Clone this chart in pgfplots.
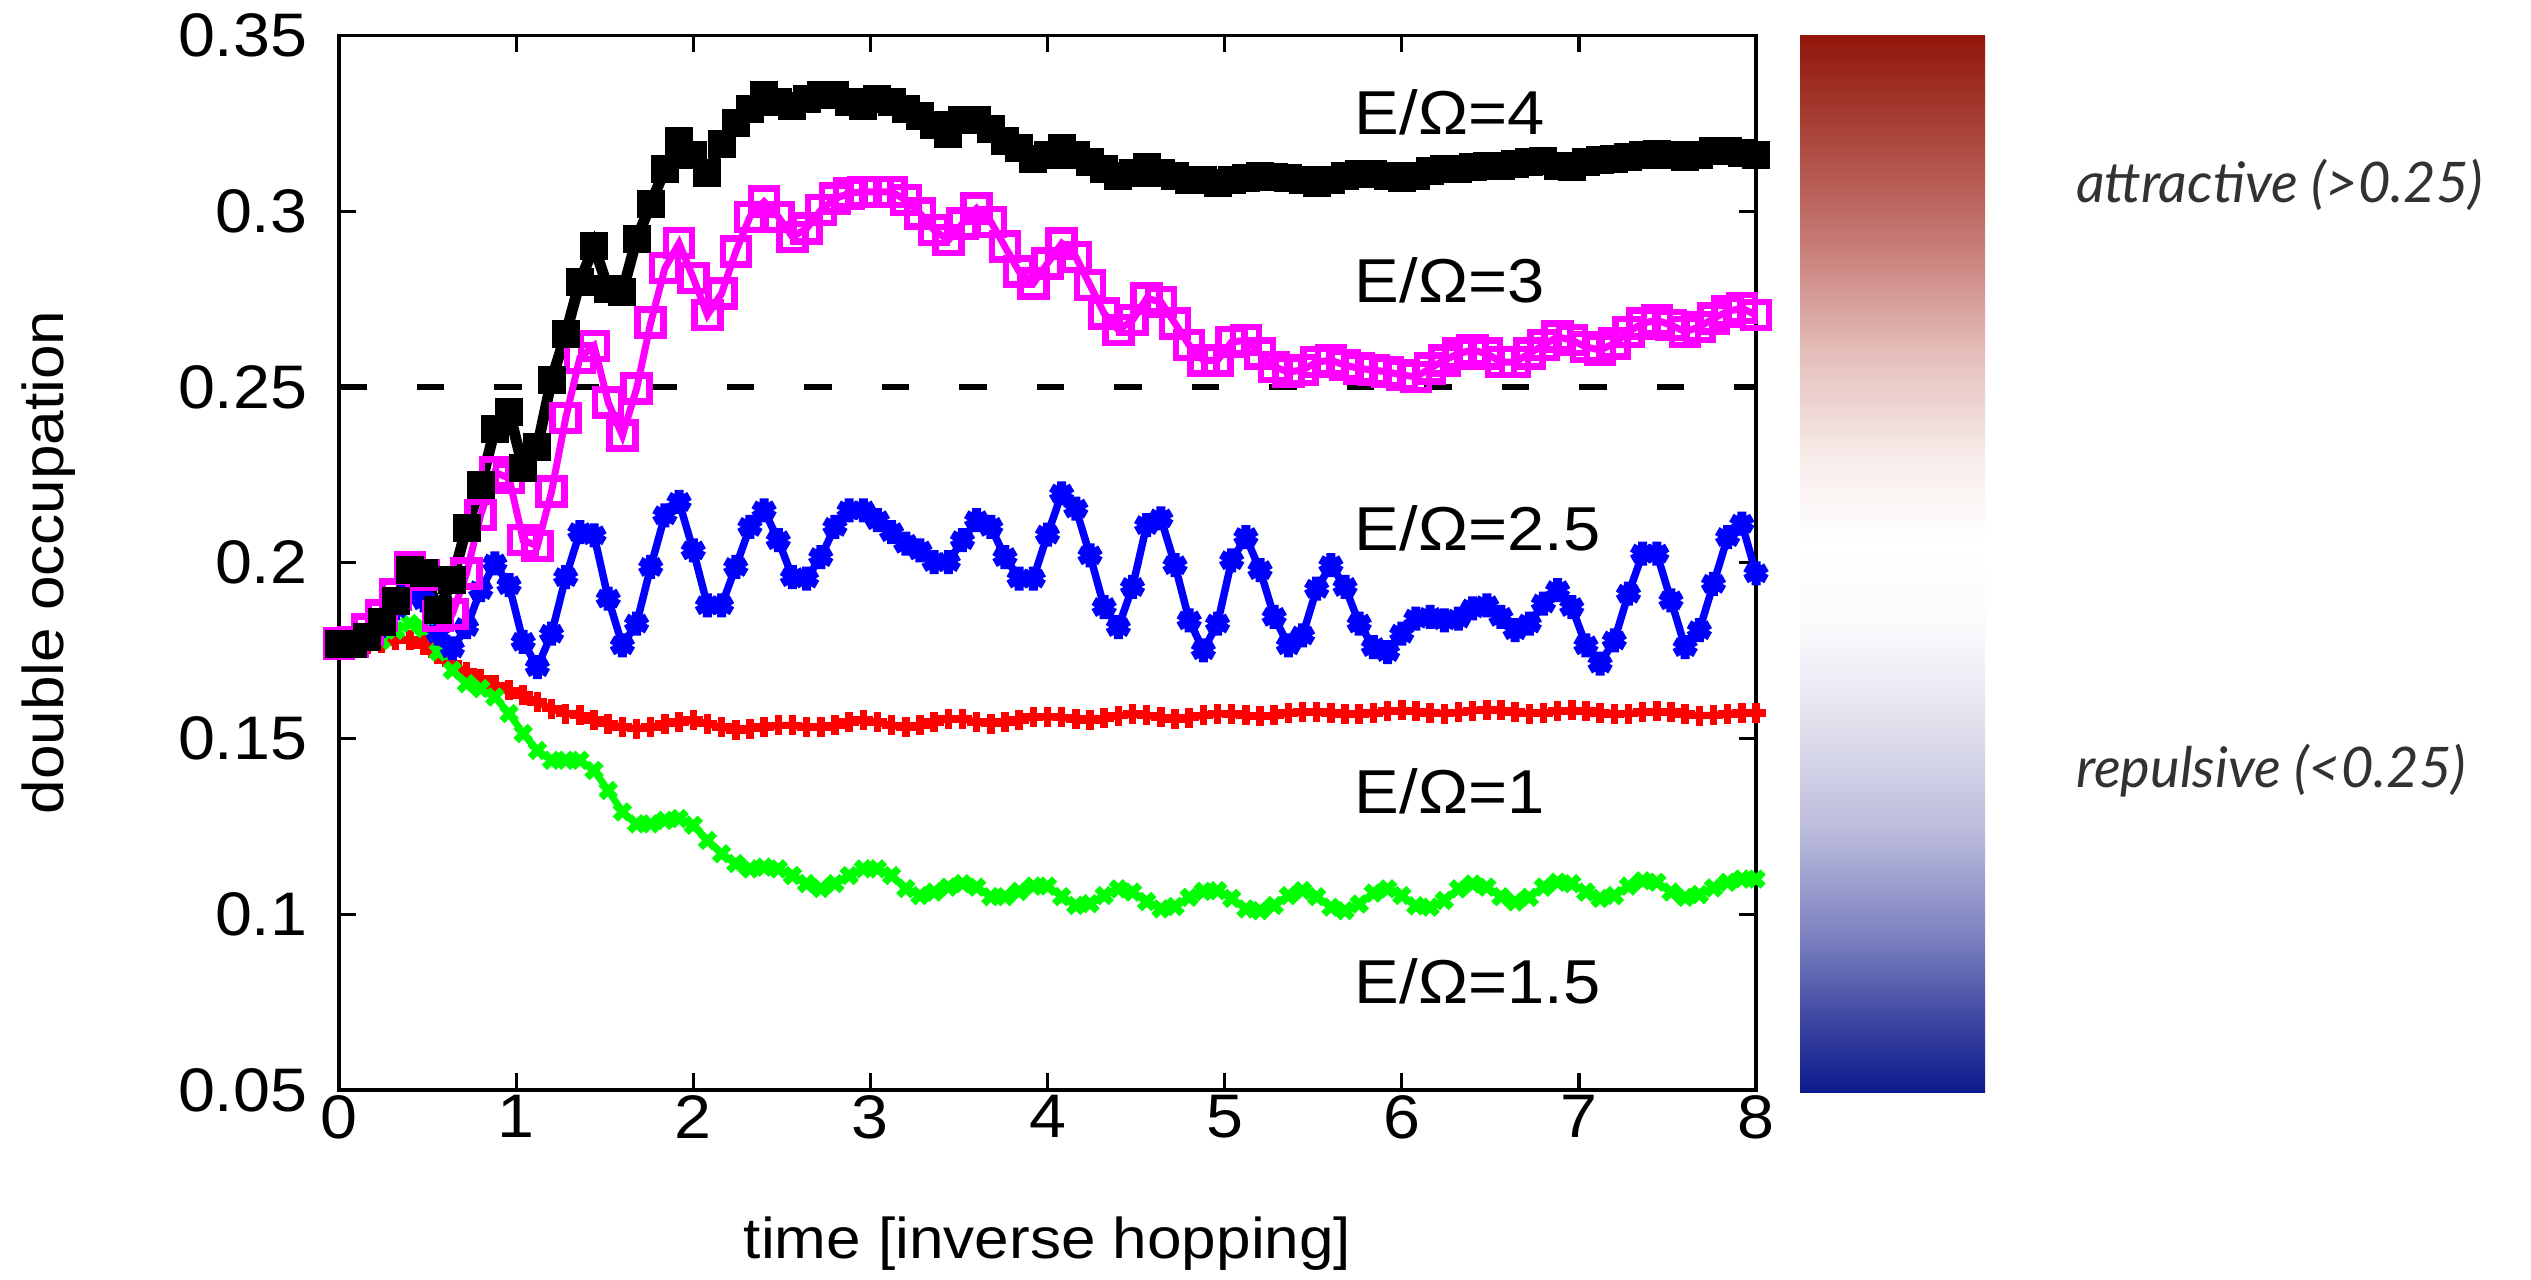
\documentclass[border=0pt]{standalone}
\usepackage{fontspec}
\setmainfont{Liberation Sans}[FakeStretch=1.08]
\newfontfamily\gillfont{Lato}
\usepackage{pgfplots}
\usepackage{pgfplotstable}
\pgfplotsset{compat=1.18}

\definecolor{cbA}{RGB}{145,22,10}
\definecolor{cbB}{RGB}{172,72,62}
\definecolor{cbC}{RGB}{200,125,120}
\definecolor{cbD}{RGB}{228,190,186}
\definecolor{cbE}{RGB}{247,236,234}
\definecolor{cbF}{RGB}{255,255,255}
\definecolor{cbG}{RGB}{250,250,253}
\definecolor{cbH}{RGB}{225,225,238}
\definecolor{cbI}{RGB}{188,188,220}
\definecolor{cbJ}{RGB}{125,130,192}
\definecolor{cbK}{RGB}{62,72,162}
\definecolor{cbL}{RGB}{12,25,140}
\definecolor{magentaG}{RGB}{255,0,255}
\definecolor{greenG}{RGB}{0,255,0}
\definecolor{labelgray}{RGB}{50,50,50}

\pgfdeclareverticalshading{cbar}{100bp}{color(0bp)=(cbL); color(25bp)=(cbL); color(28.5bp)=(cbK); color(32.5bp)=(cbJ); color(37.5bp)=(cbI); color(42.5bp)=(cbH); color(47bp)=(cbG); color(51bp)=(cbF); color(55bp)=(cbE); color(60bp)=(cbD); color(65bp)=(cbC); color(70bp)=(cbB); color(75bp)=(cbA); color(100bp)=(cbA)}

\pgfplotstableread{
t K M B R G
0.00 0.177 0.177 0.177 0.177 0.177
0.08 0.177 0.1775 0.177 0.1768 0.1772
0.16 0.179 0.181 0.1785 0.177 0.1775
0.24 0.183 0.185 0.182 0.1773 0.1779
0.32 0.189 0.191 0.187 0.1779 0.1808
0.40 0.198 0.1987 0.1922 0.1781 0.1827
0.48 0.197 0.1965 0.1893 0.1765 0.1813
0.56 0.1865 0.1849 0.1798 0.1741 0.1746
0.64 0.195 0.1854 0.1756 0.1713 0.1694
0.72 0.210 0.197 0.1817 0.1689 0.1656
0.80 0.222 0.2136 0.1922 0.1670 0.1642
0.88 0.238 0.2257 0.1998 0.1651 0.1618
0.96 0.243 0.2241 0.1936 0.1637 0.1571
1.04 0.227 0.2064 0.1775 0.1623 0.1514
1.12 0.233 0.2048 0.1703 0.1604 0.1466
1.20 0.252 0.2202 0.1798 0.1585 0.1438
1.28 0.265 0.2412 0.1959 0.1571 0.1438
1.36 0.280 0.2583 0.2087 0.1566 0.1438
1.44 0.290 0.2617 0.2078 0.1552 0.1409
1.52 0.278 0.2456 0.1898 0.1542 0.1352
1.60 0.277 0.2362 0.1765 0.1532 0.1291
1.68 0.292 0.2495 0.1827 0.1528 0.1257
1.76 0.302 0.2683 0.1988 0.1532 0.1257
1.84 0.312 0.2838 0.2135 0.1542 0.1267
1.92 0.320 0.2909 0.2173 0.1547 0.1272
2.00 0.316 0.2810 0.2035 0.1552 0.1253
2.08 0.311 0.2705 0.1879 0.1542 0.1210
2.16 0.319 0.2766 0.1879 0.1532 0.1172
2.24 0.325 0.2885 0.1988 0.1523 0.1144
2.32 0.329 0.2984 0.2102 0.1528 0.1129
2.40 0.333 0.3027 0.2149 0.1532 0.1134
2.48 0.331 0.2984 0.2064 0.1537 0.1129
2.56 0.330 0.2927 0.1959 0.1537 0.1110
2.64 0.332 0.2951 0.1955 0.1532 0.1087
2.72 0.333 0.3003 0.2016 0.1532 0.1073
2.80 0.333 0.3036 0.2102 0.1537 0.1087
2.88 0.331 0.3051 0.2149 0.1547 0.1110
2.96 0.330 0.3055 0.2149 0.1552 0.1129
3.04 0.332 0.3055 0.2121 0.1547 0.1129
3.12 0.331 0.3055 0.2087 0.1537 0.1110
3.20 0.329 0.3032 0.2054 0.1532 0.1073
3.28 0.327 0.2994 0.2035 0.1537 0.1053
3.36 0.3245 0.2946 0.2002 0.1547 0.1063
3.44 0.322 0.2918 0.2002 0.1556 0.1077
3.52 0.326 0.2965 0.2064 0.1556 0.1087
3.60 0.326 0.3008 0.2121 0.1547 0.1077
3.68 0.3235 0.2970 0.2102 0.1542 0.1050
3.76 0.320 0.2899 0.2016 0.1547 0.1050
3.84 0.318 0.2828 0.1955 0.1552 0.1065
3.92 0.315 0.2795 0.1955 0.1561 0.1080
4.00 0.316 0.2852 0.2080 0.1562 0.1080
4.08 0.318 0.2908 0.2197 0.1560 0.1050
4.16 0.316 0.2870 0.2154 0.1556 0.1025
4.24 0.314 0.2790 0.2021 0.1553 0.1030
4.32 0.312 0.2709 0.1874 0.1557 0.1053
4.40 0.310 0.2662 0.1817 0.1565 0.1072
4.48 0.311 0.2690 0.1931 0.1569 0.1063
4.56 0.3125 0.2752 0.2107 0.1566 0.1036
4.64 0.311 0.2742 0.2126 0.1560 0.1015
4.72 0.310 0.2681 0.1993 0.1556 0.1022
4.80 0.309 0.2619 0.1836 0.1559 0.1048
4.88 0.309 0.2576 0.1751 0.1566 0.1065
4.96 0.308 0.2576 0.1827 0.1571 0.1067
5.04 0.309 0.2628 0.2007 0.1569 0.1045
5.12 0.3095 0.2633 0.2073 0.1566 0.1015
5.20 0.310 0.2595 0.1979 0.1563 0.1010
5.28 0.3098 0.2557 0.1846 0.1566 0.1025
5.36 0.3095 0.2543 0.1765 0.1572 0.1053
5.44 0.309 0.2548 0.1793 0.1576 0.1067
5.52 0.308 0.2571 0.1926 0.1575 0.1050
5.60 0.309 0.2576 0.1993 0.1572 0.1020
5.68 0.310 0.2562 0.1931 0.1569 0.1010
5.76 0.3105 0.2553 0.1827 0.1569 0.1029
5.84 0.3105 0.2548 0.1760 0.1573 0.1060
5.92 0.310 0.2543 0.1746 0.1578 0.1072
6.00 0.3095 0.2534 0.1798 0.1580 0.1053
6.08 0.310 0.2529 0.1841 0.1577 0.1024
6.16 0.3115 0.2553 0.1846 0.1573 0.1020
6.24 0.312 0.2576 0.1836 0.1571 0.1039
6.32 0.312 0.2595 0.1841 0.1574 0.1072
6.40 0.3125 0.2605 0.1870 0.1579 0.1086
6.48 0.313 0.2595 0.1879 0.1582 0.1077
6.56 0.313 0.2571 0.1846 0.1580 0.1050
6.64 0.3135 0.2571 0.1808 0.1575 0.1035
6.72 0.314 0.2595 0.1827 0.1571 0.1048
6.80 0.3142 0.2619 0.1884 0.1573 0.1077
6.88 0.313 0.2643 0.1922 0.1578 0.1091
6.96 0.3125 0.2633 0.1874 0.1580 0.1087
7.04 0.314 0.2614 0.1765 0.1578 0.1063
7.12 0.3145 0.2605 0.1713 0.1573 0.1045
7.20 0.315 0.2624 0.1779 0.1569 0.1053
7.28 0.3155 0.2657 0.1912 0.1571 0.1080
7.36 0.316 0.2681 0.2026 0.1575 0.1095
7.44 0.3162 0.2690 0.2026 0.1577 0.1091
7.52 0.316 0.2676 0.1893 0.1575 0.1063
7.60 0.3155 0.2657 0.1760 0.1570 0.1048
7.68 0.316 0.2671 0.1808 0.1565 0.1056
7.76 0.317 0.2695 0.1940 0.1566 0.1075
7.84 0.3172 0.2715 0.2073 0.1570 0.1091
7.92 0.3165 0.2724 0.2111 0.1573 0.1100
8.00 0.316 0.2705 0.1970 0.1573 0.1100
}\datatable

\begin{document}
\begin{tikzpicture}
\useasboundingbox (0,0) rectangle (506.2pt,256pt);
\begin{axis}[
  at={(67.8pt,38pt)}, anchor=south west,
  scale only axis, width=283.4pt, height=210.9pt,
  xmin=0, xmax=8, ymin=0.05, ymax=0.35,
  xtick={0,1,2,3,4,5,6,7,8},
  xticklabels={0,1,2,3,4,5,6,7,8},
  ytick={0.05,0.1,0.15,0.2,0.25,0.3,0.35},
  yticklabels={0.05,0.1,0.15,0.2,0.25,0.3,0.35},
  /pgf/number format/assume math mode=true,
  tick align=inside, tick pos=both,
  major tick length=3.4pt,
  axis line style={line width=0.65pt},
  tick style={line width=0.65pt, black},
  ticklabel style={font=\fontsize{12.3}{14}\selectfont},
  yticklabel style={xshift=-2.8pt},
  xticklabel style={yshift=2.5pt},
]
\addplot[dash pattern=on 5.5pt off 10pt, line width=1.3pt, black] coordinates {(0,0.25) (8,0.25)};
\addplot[red, line width=1.4pt, mark=+, mark size=2pt, mark options={line width=1.5pt, solid}] table[x=t,y=R] {\datatable};
\addplot[greenG, line width=1.4pt, mark=x, mark size=2pt, mark options={line width=1.5pt, solid}] table[x=t,y=G] {\datatable};
\addplot[blue, line width=1.5pt, mark=asterisk, mark size=2.4pt, mark options={line width=1.8pt, solid}] table[x=t,y=B] {\datatable};
\addplot[magentaG, line width=1.4pt, mark=square, mark size=2.6pt, mark options={line width=1.3pt, solid}] table[x=t,y=M] {\datatable};
\addplot[black, line width=2.2pt, mark=square*, mark size=1.7pt, mark options={solid}] table[x=t,y=K] {\datatable};

\node[anchor=west, inner sep=0pt, font=\fontsize{12.4}{14}\selectfont] at (axis cs:5.73,0.3281) {E/Ω=4};
\node[anchor=west, inner sep=0pt, font=\fontsize{12.4}{14}\selectfont] at (axis cs:5.73,0.2802) {E/Ω=3};
\node[anchor=west, inner sep=0pt, font=\fontsize{12.4}{14}\selectfont] at (axis cs:5.73,0.2099) {E/Ω=2.5};
\node[anchor=west, inner sep=0pt, font=\fontsize{12.4}{14}\selectfont] at (axis cs:5.73,0.1350) {E/Ω=1};
\node[anchor=west, inner sep=0pt, font=\fontsize{12.4}{14}\selectfont] at (axis cs:5.73,0.0809) {E/Ω=1.5};
\end{axis}
\node[rotate=90, font=\fontsize{11.5}{13}\selectfont] at (9.7pt,143.5pt) {double occupation};
\node[font=\fontsize{11.5}{13}\selectfont] at (209.5pt,7.2pt) {time [inverse hopping]};
\shade[shading=cbar] (360pt,37.4pt) rectangle (397pt,248.9pt);
\node[anchor=west, inner sep=0pt, text=labelgray, font=\gillfont\itshape\fontsize{11.2}{13}\selectfont] at (415pt,219pt) {attractive (>0.25)};
\node[anchor=west, inner sep=0pt, text=labelgray, font=\gillfont\itshape\fontsize{11.2}{13}\selectfont] at (415pt,101.8pt) {repulsive (<0.25)};
\end{tikzpicture}
\end{document}
